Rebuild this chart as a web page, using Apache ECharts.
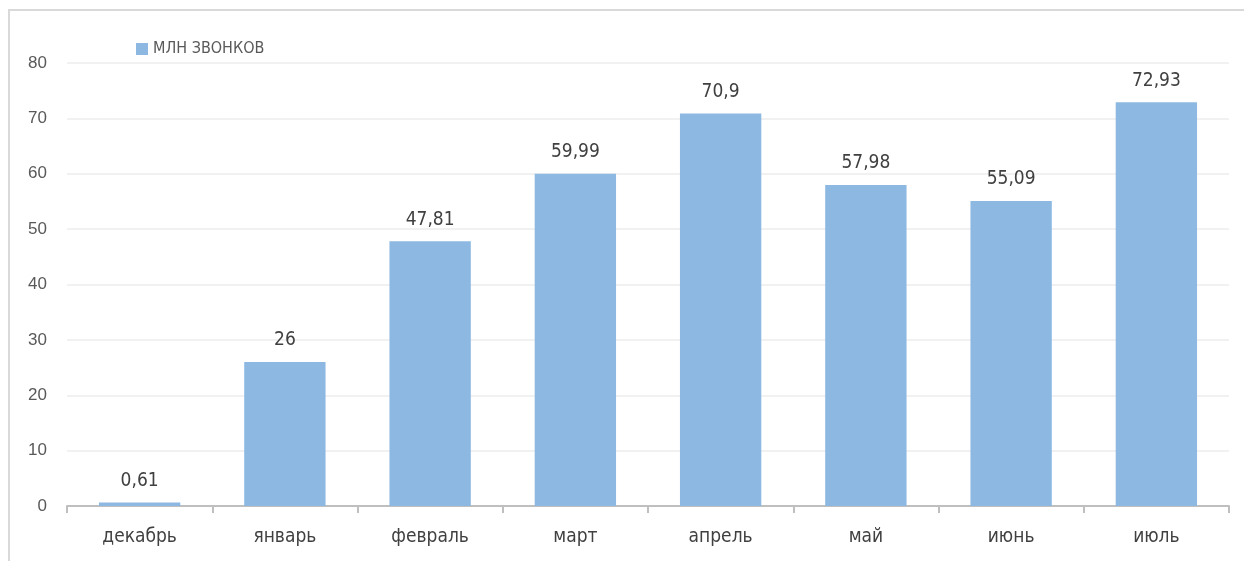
<!DOCTYPE html>
<html><head><meta charset="utf-8">
<script src="https://cdn.jsdelivr.net/npm/echarts@6/dist/echarts.min.js"></script>
<style>
html,body{margin:0;padding:0;background:#fff;}
#c{width:1244px;height:561px;}
#frame{position:absolute;left:8px;top:9px;width:1250px;height:560px;border-left:2px solid #d9d9d9;border-top:2px solid #d9d9d9;pointer-events:none;}
</style></head>
<body>
<div id="c"></div>
<div id="frame"></div>
<script>
const categories = ['декабрь','январь','февраль','март','апрель','май','июнь','июль'];
const values = [0.61, 26, 47.81, 59.99, 70.9, 57.98, 55.09, 72.93];
const seriesName = 'МЛН ЗВОНКОВ';
const narrow = '"Liberation Sans Narrow", "DejaVu Sans Condensed", "Roboto", sans-serif';
const chart = echarts.init(document.getElementById('c'));
chart.setOption({
  animation:false,
  legend:{
    left:131, top:36, itemWidth:12, itemHeight:12, itemGap:5,
    icon:'rect',
    textStyle:{fontFamily:narrow, fontSize:16, color:'#595959'},
    data:[seriesName]
  },
  grid:{left:67, right:15, top:63, bottom:55},
  xAxis:{
    type:'category', data:categories,
    axisLine:{lineStyle:{color:'#bfbfbf', width:2}},
    axisTick:{show:true, length:7, alignWithLabel:false, lineStyle:{color:'#bfbfbf', width:2}},
    axisLabel:{fontFamily:narrow, fontSize:19, color:'#404040', margin:22}
  },
  yAxis:{
    type:'value', min:0, max:80, interval:10,
    axisLine:{show:false}, axisTick:{show:false},
    splitLine:{lineStyle:{color:'#ececec', width:1.5}},
    axisLabel:{fontFamily:'"Liberation Sans", Arial, sans-serif', fontSize:17, color:'#595959', margin:20}
  },
  series:[{
    name:seriesName, type:'bar', data:values, barWidth:'56%',
    itemStyle:{color:'#8db8e2'},
    label:{show:true, position:'top', distance:12, fontFamily:narrow, fontSize:19, color:'#404040',
      formatter:p=>String(p.value).replace('.',',')}
  }]
});
</script>
</body></html>
